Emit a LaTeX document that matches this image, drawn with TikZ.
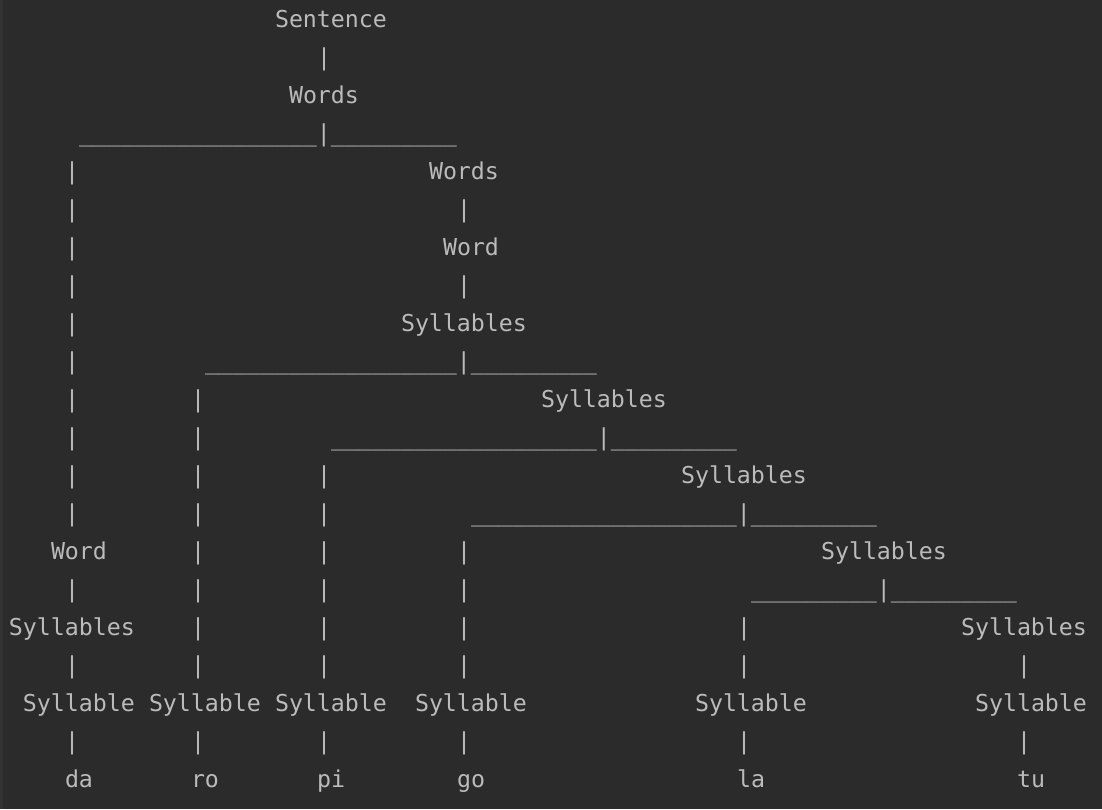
\documentclass[tikz,border=0pt]{standalone}
\usepackage{fontspec}
\setmonofont{DejaVu Sans Mono}
\definecolor{consolebg}{HTML}{2B2B2B}
\definecolor{gutter}{HTML}{313335}
\definecolor{consolefg}{HTML}{BBBBBB}
\tikzset{txt/.style={anchor=base west, inner sep=0pt, outer sep=0pt, text=consolefg,
    font=\ttfamily\fontsize{23.25pt}{38pt}\selectfont}}
\newcommand{\ulrun}[1]{\foreach\k in {1,...,#1}{\_}}
\newcommand{\putword}[4]{\node[txt] (#1) at ({9pt+14pt*#2},{-27pt-38pt*#3}) {#4};}
\begin{document}
\begin{tikzpicture}
    \fill[consolebg] (0,0) rectangle (1102pt,-809pt);
    \fill[gutter] (0,0) rectangle (3pt,-809pt);
    \useasboundingbox (0,0) rectangle (1102pt,-809pt);
    % top of the tree
    \putword{sentence}{19}{0}{Sentence}
    \putword{v22r1}{22}{1}{|}
    \putword{words1}{20}{2}{Words}
    \putword{split1}{5}{3}{\ulrun{17}|\ulrun{9}}
    \putword{words2}{30}{4}{Words}
    \putword{v32r5}{32}{5}{|}
    \putword{word2}{31}{6}{Word}
    \putword{v32r7}{32}{7}{|}
    \putword{syls2}{28}{8}{Syllables}
    \putword{split2}{14}{9}{\ulrun{18}|\ulrun{9}}
    \putword{syls3}{38}{10}{Syllables}
    \putword{split3}{23}{11}{\ulrun{19}|\ulrun{9}}
    \putword{syls4}{48}{12}{Syllables}
    \putword{split4}{33}{13}{\ulrun{19}|\ulrun{9}}
    \putword{word1}{3}{14}{Word}
    \putword{syls5}{58}{14}{Syllables}
    \putword{split5}{53}{15}{\ulrun{9}|\ulrun{9}}
    \putword{syls1}{0}{16}{Syllables}
    \putword{syls6}{68}{16}{Syllables}
    % vertical bars
    \foreach \r in {4,5,6,7,8,9,10,11,12,13,15,17,19}
        {\putword{v4r\r}{4}{\r}{|}}
    \foreach \r in {10,11,12,13,14,15,16,17,19}
        {\putword{v13r\r}{13}{\r}{|}}
    \foreach \r in {12,13,14,15,16,17,19}
        {\putword{v22r\r}{22}{\r}{|}}
    \foreach \r in {14,15,16,17,19}
        {\putword{v32r\r}{32}{\r}{|}}
    \foreach \r in {16,17,19}
        {\putword{v52r\r}{52}{\r}{|}}
    \foreach \r in {17,19}
        {\putword{v72r\r}{72}{\r}{|}}
    % leaves
    \foreach \c/\n in {1/a,10/b,19/c,29/d,49/e,69/f}
        {\putword{syl\n}{\c}{18}{Syllable}}
    \putword{da}{4}{20}{da}
    \putword{ro}{13}{20}{ro}
    \putword{pi}{22}{20}{pi}
    \putword{go}{32}{20}{go}
    \putword{la}{52}{20}{la}
    \putword{tu}{72}{20}{tu}
\end{tikzpicture}
\end{document}
